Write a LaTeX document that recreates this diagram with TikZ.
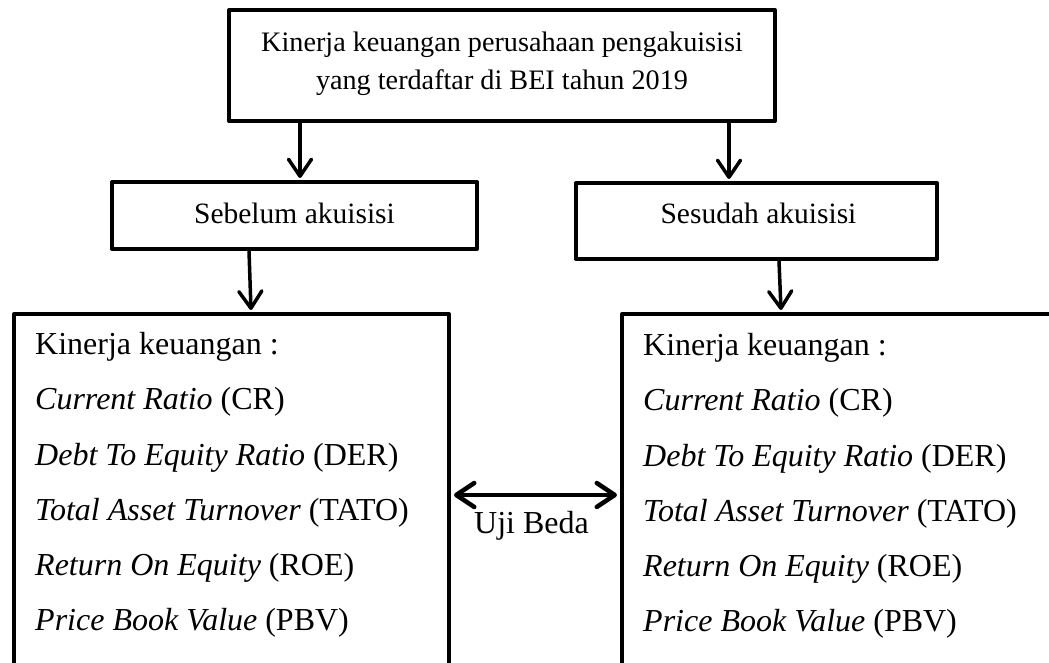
\documentclass[tikz,border=0pt]{standalone}
\usepackage{fontspec}
\setmainfont{Liberation Serif}
\usetikzlibrary{arrows.meta}
\begin{document}
\begin{tikzpicture}[x=1pt,y=-1pt,
  box/.style={draw=black, line width=4pt, minimum width=#1, inner sep=0pt, line join=round},
  tip/.style={Straight Barb[length=17pt,width=23pt,round]},
  arr/.style={line width=3.5pt, -{Straight Barb[length=17pt,width=23pt,round]}},
  darr/.style={line width=4.5pt, {Straight Barb[length=18pt,width=24pt,round]}-{Straight Barb[length=18pt,width=24pt,round]}},
  txt/.style={font=\fontsize{29.5}{36}\selectfont, inner sep=0pt},
  item/.style={font=\fontsize{32}{38}\selectfont, inner sep=0pt, anchor=base west}]
\useasboundingbox (0,0) rectangle (1049,663);
\clip (0,0) rectangle (1049,663);
\fill[white] (0,0) rectangle (1049,663);
% boxes
\node[box=546pt, minimum height=111pt] (top) at (502,65.5) {};
\node[txt, font=\fontsize{28.2}{37.5}\selectfont, align=center] (toptxt) at (502,64) {Kinerja keuangan perusahaan pengakuisisi\\yang terdaftar di BEI tahun 2019};
\node[box=365pt, minimum height=67pt] (seb) at (294.5,215.5) {};
\node[txt] (sebtxt) at (294.5,213) {Sebelum akuisisi};
\node[box=361pt, minimum height=76pt] (ses) at (756.5,221) {};
\node[txt] (sestxt) at (758.5,213) {Sesudah akuisisi};
\node[box=435pt, minimum height=400pt, anchor=north west] (lb) at (12,312) {};
\node[box=460pt, minimum height=400pt, anchor=north west] (rb) at (620,312) {};
% left texts
\node[item] (l1) at (35,354) {Kinerja keuangan :};
\node[item] (l2) at (35,409) {\textit{Current Ratio} (CR)};
\node[item] (l3) at (35,465) {\textit{Debt To Equity Ratio} (DER)};
\node[item] (l4) at (35,520) {\textit{Total Asset Turnover} (TATO)};
\node[item] (l5) at (35,575) {\textit{Return On Equity} (ROE)};
\node[item] (l6) at (35,630) {\textit{Price Book Value} (PBV)};
% right texts
\node[item] (r1) at (643,355) {Kinerja keuangan :};
\node[item] (r2) at (643,410) {\textit{Current Ratio} (CR)};
\node[item] (r3) at (643,466) {\textit{Debt To Equity Ratio} (DER)};
\node[item] (r4) at (643,521) {\textit{Total Asset Turnover} (TATO)};
\node[item] (r5) at (643,576) {\textit{Return On Equity} (ROE)};
\node[item] (r6) at (643,631) {\textit{Price Book Value} (PBV)};
\node[item] (uji) at (474,533) {Uji Beda};
% connectors
\draw[arr] ([xshift=73pt]top.south west) -- ([xshift=190pt,yshift=2pt]seb.north west);
\draw[arr] ([xshift=502pt]top.south west) -- ([xshift=155pt,yshift=2pt]ses.north west);
\draw[arr] ([xshift=139pt]seb.south west) -- ([xshift=239pt,yshift=2pt]lb.north west);
\draw[arr] ([xshift=205pt]ses.south west) -- ([xshift=161pt,yshift=2pt]rb.north west);
\draw[darr] ([xshift=3pt,yshift=-183pt]lb.north east) -- ([xshift=-3pt,yshift=-183pt]rb.north west);
\end{tikzpicture}
\end{document}
